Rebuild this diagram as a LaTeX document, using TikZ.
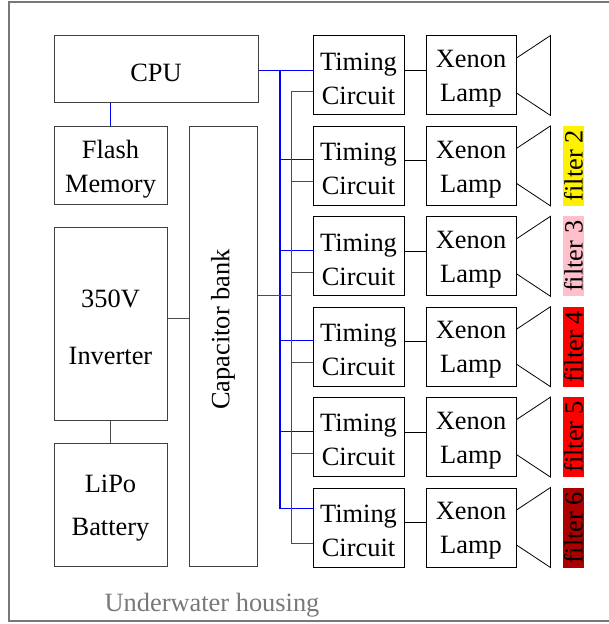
\documentclass[tikz,border=0pt]{standalone}
\usepackage{fontspec}
\setmainfont{Liberation Serif}
\usetikzlibrary{calc,positioning}
\definecolor{housing}{RGB}{118,122,118}
\definecolor{pinkf}{RGB}{255,192,203}
\definecolor{darkf}{RGB}{172,0,0}
\newcommand\lift{\rule{0pt}{12pt}}

\begin{document}
\begin{tikzpicture}[x=0.5pt,y=-0.5pt,
        font=\fontsize{13.2}{17}\selectfont,
        box/.style={rectangle, draw=black!75, line width=0.5pt, inner sep=0pt, align=center},
        unit/.style={box, draw=black, minimum width=45.5pt, minimum height=39.5pt},
        filt/.style={rectangle, rotate=90, inner xsep=0pt, inner ysep=0.6pt, minimum width=40pt},
        ctrl/.style={draw=blue, line width=0.6pt},
        pwr/.style={draw=black!70, line width=0.5pt}
    ]
        \useasboundingbox (0,0) rectangle (608,624);

        % housing
        \draw[housing, line width=1pt] (614,2.5) -- (8.5,2.5) -- (8.5,621) -- (614,621);
        \node[text=housing] (house) at (212,605) {Underwater housing};

        % left column
        \node[box, minimum width=102pt, minimum height=33.5pt] (cpu) at (156,69.5) {\lift CPU};
        \node[box, minimum width=56.5pt, minimum height=39pt] (flash) at (110.5,166) {\lift Flash\\Memory};
        \node[box, minimum width=56.5pt, minimum height=96pt] (inv) at (110.5,324) {\lift 350V\\[11.5pt]Inverter};
        \node[box, minimum width=56.5pt, minimum height=61.5pt] (lipo) at (110.5,504.5) {\lift LiPo\\[4.5pt]Battery};
        \node[box, rotate=90, minimum width=219.5pt, minimum height=34pt] (cap) at (223,346.5) {\hspace*{17pt}Capacitor bank};

        \draw[ctrl] (cpu.south -| flash.north) -- (flash.north);
        \draw[pwr] (inv.south) -- (lipo.north);
        \draw[pwr] ([yshift=3pt]inv.east) -- ([yshift=3pt]inv.east -| cap.north);

        % timing circuits and lamps
        \foreach \i [evaluate=\i as \top using 36+90.4*(\i-1)] in {1,...,6} {
            \node[unit] (t\i) at (358.5,\top+39.5) {\lift Timing\\Circuit};
            \node[unit, minimum width=45pt] (l\i) at (471,\top+39.5) {\lift Xenon\\Lamp};
            \draw ([yshift=-17.5pt]t\i.north east) -- ([yshift=-17.5pt]l\i.north west);
            \draw ([yshift=8.75pt]l\i.east) -- ([xshift=17pt]l\i.north east)
                -- ([xshift=17pt]l\i.south east) -- ([yshift=-8.75pt]l\i.east);
        }

        % filters
        \foreach \i/\col in {2/yellow,3/pinkf,4/red,5/red,6/darkf}
            \node[filt, fill=\col] (f\i) at ([xshift=28.5pt]l\i.east) {filter \i};

        % control bus
        \coordinate (cbus) at (280,70.5);
        \draw[ctrl] ([yshift=-0.5pt]cpu.east) -- ([yshift=-0.5pt]cpu.east -| t1.west);
        \foreach \i/\d in {2/17pt,3/17pt,4/17pt,5/17pt,6/10.5pt}
            \draw[ctrl] (cbus) |- ([yshift=-\d]t\i.north west);

        % power bus
        \coordinate (pbus) at (291,296);
        \draw[pwr] (cap.south |- pbus) -- (pbus);
        \foreach \i in {1,...,6}
            \draw[pwr] (pbus) |- ([yshift=-28pt]t\i.north west);
    \end{tikzpicture}
\end{document}
